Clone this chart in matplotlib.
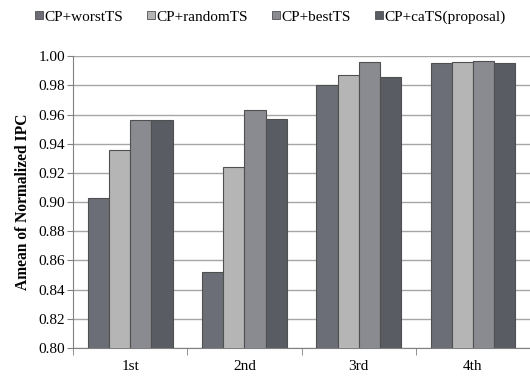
import numpy as np
import matplotlib.pyplot as plt
from matplotlib.lines import Line2D

plt.rcParams['font.family'] = ['Liberation Serif', 'DejaVu Serif']

# ---------------------------
# Data
# ---------------------------
categories = ['1st', '2nd', '3rd', '4th']
series_names = ['CP+worstTS', 'CP+randomTS', 'CP+bestTS', 'CP+caTS(proposal)']
worst_ts = [0.903, 0.852, 0.980, 0.995]
random_ts = [0.936, 0.924, 0.987, 0.996]
best_ts = [0.956, 0.963, 0.996, 0.997]
cats_ts = [0.956, 0.957, 0.986, 0.995]
y_ticks = [0.80, 0.82, 0.84, 0.86, 0.88, 0.90, 0.92, 0.94, 0.96, 0.98, 1.00]

colors = ['#6b6e76', '#b5b5b5', '#8a8b90', '#5a5c64']

fig = plt.figure(figsize=(5.30, 3.77), dpi=100)
ax = fig.add_axes([0.138, 0.077, 0.862, 0.774])

x = np.arange(len(categories))
width = 0.185
all_series = [worst_ts, random_ts, best_ts, cats_ts]
for i, vals in enumerate(all_series):
    ax.bar(x + (i - 1.5) * width, vals, width, color=colors[i],
           edgecolor='#505050', linewidth=0.8, zorder=3)

ax.set_ylim(0.80, 1.00)
ax.set_xlim(-0.5, 3.5)
ax.set_yticks(y_ticks)
ax.set_yticklabels([f'{v:.2f}' for v in y_ticks], fontsize=11)
ax.yaxis.grid(True, color='#a6a6a6', linewidth=1.0, zorder=0)

# category labels centred, tick marks between categories
ax.set_xticks(x)
ax.set_xticklabels(categories, fontsize=11)
ax.tick_params(axis='x', length=0, pad=9)
ax.set_xticks(np.arange(-0.5, 4.0, 1.0), minor=True)
ax.tick_params(axis='x', which='minor', length=5, color='#808080', direction='out')
ax.tick_params(axis='y', length=4, color='#808080', direction='out', pad=2)

for s in ['top', 'right']:
    ax.spines[s].set_visible(False)
ax.spines['left'].set_color('#808080')
ax.spines['bottom'].set_color('#808080')

ax.set_ylabel('Amean of Normalized IPC', fontsize=11.2, fontweight='bold', labelpad=5)

handles = [Line2D([0], [0], marker='s', linestyle='none', markersize=6,
                  markerfacecolor=c, markeredgecolor='#505050', markeredgewidth=0.6)
           for c in colors]
fig.legend(handles, series_names, loc='upper center', bbox_to_anchor=(0.51, 1.01),
           ncol=4, frameon=False, fontsize=11, handlelength=0.5, handletextpad=0.1,
           columnspacing=1.6)

fig.savefig('out.png', dpi=100)
